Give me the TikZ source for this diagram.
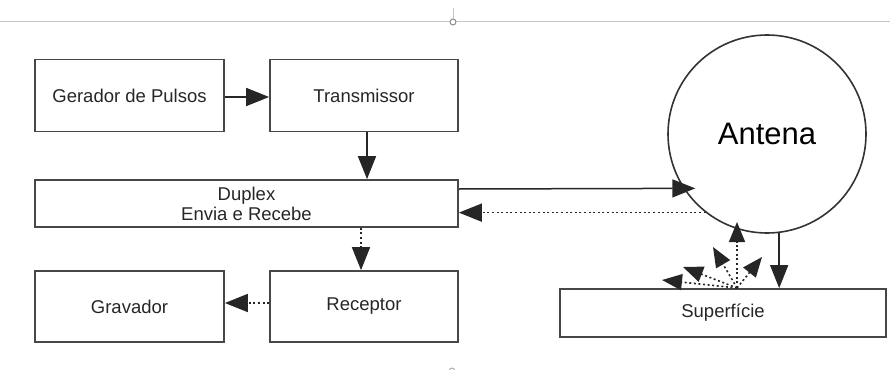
\documentclass[tikz,border=0pt]{standalone}
\usepackage{fontspec}
\setmainfont{Liberation Sans}
\usetikzlibrary{arrows.meta,calc}

\tikzset{
  blk/.style={draw=black!72, line width=1.7pt, rectangle, inner sep=0pt,
    font=\fontsize{18.5}{22}\selectfont, text=black!85, align=center},
  flow/.style={draw=black!85, line width=1.5pt, -{Triangle[length=23pt,width=18pt]}},
  echo/.style={flow, line width=1.6pt, dash pattern=on 2pt off 2.6pt},
  guide/.style={draw=black!22, line width=1pt}
}

\begin{document}
\begin{tikzpicture}[x=1pt,y=-1pt]
  \useasboundingbox (0,0) rectangle (890,369);

  % page guides
  \draw[guide] (0,22) -- (890,22);
  \draw[guide] (453,8) -- (453,19);
  \draw[guide, draw=black!45, fill=white] (453,22) circle (3);
  \draw[guide, draw=black!30] (452,371) circle (3);

  % blocks
  \node[blk, minimum width=189pt, minimum height=72pt] (ger) at (129.5,95.5) {Gerador de Pulsos};
  \node[blk, minimum width=188pt, minimum height=72pt] (tx)  at (364,95.5) {Transmissor};
  \node[blk, minimum width=423pt, minimum height=47pt] (dup) at (246.5,203.5) {Duplex\\[-2pt]Envia e Recebe};
  \node[blk, minimum width=189pt, minimum height=71pt] (grav) at (129.5,306.5) {Gravador};
  \node[blk, minimum width=188pt, minimum height=71pt] (rx)  at (364,306.5) {Receptor};
  \node[blk, minimum width=326pt, minimum height=48pt] (sup) at (723,313) {Superfície};
  \node[draw=black!80, line width=1.6pt, circle, minimum size=198pt, inner sep=0pt,
        font=\fontsize{31}{36}\selectfont] (ant) at (767,134) {Antena};

  % transmit chain
  \draw[flow] (ger.east |- 0,97) -- (tx.west |- 0,97);
  \draw[flow] ([xshift=3pt]tx.south) -- ([xshift=3pt]tx.south |- dup.north);
  \draw[flow] (dup.east |- 0,189) -- ([xshift=12pt]ant.213.7);
  \draw[flow] (ant.-83) -- (ant.-83 |- sup.north);

  % receive chain
  \draw[echo] (ant.232.9) -- (dup.east |- ant.232.9);
  \draw[echo] ([xshift=-3pt]rx.north |- dup.south) -- ([xshift=-3pt]rx.north);
  \draw[echo] (rx.west |- 0,303) -- (grav.east |- 0,303);

  % scattered echoes from the surface
  \coordinate (hit) at (737,288);
  \coordinate (e1) at (737,222);
  \coordinate (e2) at (713,247);
  \coordinate (e3) at (762,257);
  \coordinate (e4) at (683,267);
  \coordinate (e5) at (662,280);
  \foreach \e in {e1,e2,e3,e4,e5}
    \draw[echo, -{Triangle[length=20pt,width=16pt]}] (hit) -- (\e);
\end{tikzpicture}
\end{document}
